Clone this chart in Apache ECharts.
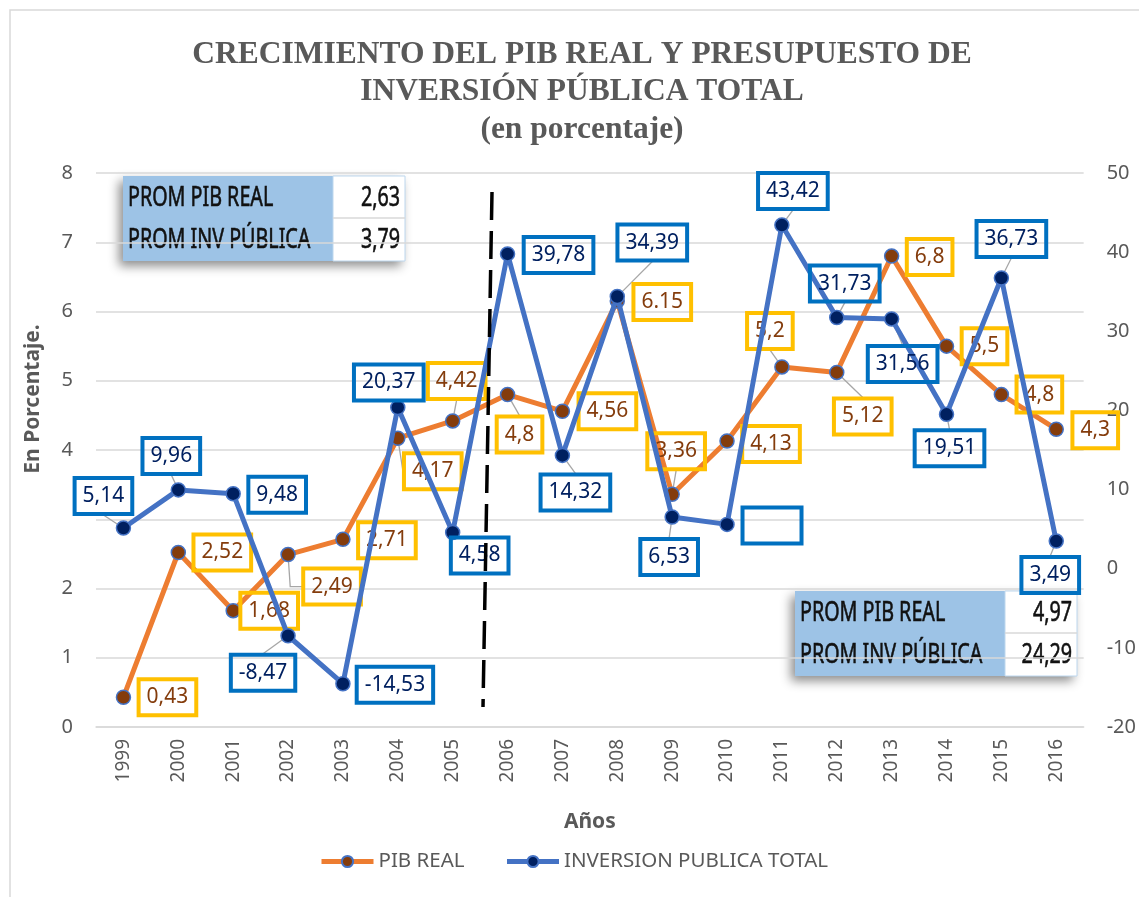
<!DOCTYPE html>
<html><head><meta charset="utf-8">
<script src="https://cdn.jsdelivr.net/npm/echarts@6/dist/echarts.min.js"></script>
<style>html,body{margin:0;padding:0;background:#fff}#c{width:1139px;height:897px}</style>
</head><body><div id="c"></div>
<script>
// ---------- data ----------
const years = ['1999','2000','2001','2002','2003','2004','2005','2006','2007','2008','2009','2010','2011','2012','2013','2014','2015','2016'];
const pibReal = [0.43, 2.52, 1.68, 2.49, 2.71, 4.17, 4.42, 4.8, 4.56, 6.15, 3.36, 4.13, 5.2, 5.12, 6.8, 5.5, 4.8, 4.3];
const invPublica = [5.14, 9.96, 9.48, -8.47, -14.53, 20.37, 4.58, 39.78, 14.32, 34.39, 6.53, 5.6, 43.42, 31.73, 31.56, 19.51, 36.73, 3.49];
const leftTicks = [0, 1, 2, 3, 4, 5, 6, 7, 8];
const rightTicks = [-20, -10, 0, 10, 20, 30, 40, 50];
const hiddenLeftTick = 3;
const table1Rows = [['PROM PIB REAL', '2,63'], ['PROM INV PÚBLICA', '3,79']];
const table2Rows = [['PROM PIB REAL', '4,97'], ['PROM INV PÚBLICA', '24,29']];
const seriesNames = ['PIB REAL', 'INVERSION PUBLICA TOTAL'];
const titleLines = ['CRECIMIENTO DEL PIB REAL Y PRESUPUESTO DE', 'INVERSIÓN PÚBLICA TOTAL', '(en porcentaje)'];

// ---------- label placement (styling) ----------
const pibLabelOffset = [[44,0],[44,0],[36,0],[44,32],[44,1],[35,33],[4,-40],[12,40],[45,0],[45,1],[4,-43],[44,3],[-12,-36],[26,44],[38,1],[38,0],[38,0],[39,1]];
const pibLeader = [3,5,6,7,10,12,13];
const invLabelOffset = [[-20,-32],[-7,-34],[44,1],[-25,37],[52,1],[-9,-25],[27,23],[51,1],[13,37],[35,-54],[-3,40],[45,1],[11,-34],[8,-34],[11,45],[3,34],[10,-39],[-6,34]];
const invLeader = [0,1,3,8,9,10,12,13,14,15,16,17];
const elbowYear = '2002';

const SANS = 'Noto Sans';
const GRAY = '#595959';
const LABEL_FS = 21, LABEL_LH = 26, PAD_V = 5, PAD_H = 8, BORDER = 2, SYM = 14;

function pibText(i){ return years[i] === '2008' ? String(pibReal[i]) : String(pibReal[i]).replace('.', ','); }
function invText(i){ return years[i] === '2010' ? '\u00a0' : String(invPublica[i]).replace('.', ','); }

const baseLabel = {
  show: true, position: 'inside', fontFamily: SANS, fontSize: LABEL_FS, lineHeight: LABEL_LH,
  padding: [PAD_V, PAD_H, PAD_V, PAD_H], borderWidth: BORDER, backgroundColor: 'transparent'
};

const pibData = pibReal.map((v, i) => ({
  value: v,
  label: Object.assign({}, baseLabel, { offset: pibLabelOffset[i], color: '#843c0c', borderColor: '#ffc000', formatter: pibText(i) })
}));
const invData = invPublica.map((v, i) => ({
  value: v,
  label: Object.assign({}, baseLabel, { offset: invLabelOffset[i], color: '#002060', borderColor: '#0070c0', formatter: invText(i) }, years[i] === '2010' ? { width: 43 } : {})
}));

// leader lines from each marker to the nearest side of its label box
const measureCtx = document.createElement('canvas').getContext('2d');
function textWidth(t) { measureCtx.font = LABEL_FS + 'px "' + SANS + '"'; return measureCtx.measureText(t).width; }
function leaderSeries(name, values, offsets, leaders, textFn, yIdx) {
  return {
    type: 'custom', name: name, yAxisIndex: yIdx, coordinateSystem: 'cartesian2d', silent: true, z: 1,
    data: values.map((v, i) => [i, v]),
    renderItem: function (params, api) {
      const i = params.dataIndex;
      if (!leaders.includes(i)) return null;
      const p = api.coord([api.value(0), api.value(1)]);
      const o = offsets[i];
      const cx = p[0] + o[0], cy = p[1] + o[1];
      const hw = (textWidth(textFn(i)) + 2 * PAD_H + BORDER) / 2;
      const hh = (LABEL_LH + 2 * PAD_V + BORDER) / 2;
      const cands = [[cx, cy - hh], [cx, cy + hh], [cx - hw, cy], [cx + hw, cy]];
      let best = cands[0], bd = Infinity;
      cands.forEach(c => { const d = Math.hypot(c[0] - p[0], c[1] - p[1]); if (d < bd) { bd = d; best = c; } });
      const pts = [];
      let target = best;
      if (years[i] === elbowYear && best === cands[2]) { target = [best[0] - 12, best[1]]; }
      const dx = target[0] - p[0], dy = target[1] - p[1], L = Math.hypot(dx, dy) || 1;
      pts.push([p[0] + dx / L * SYM / 2, p[1] + dy / L * SYM / 2]);
      if (target !== best) pts.push(target);
      pts.push(best);
      return { type: 'polyline', shape: { points: pts }, style: { stroke: '#a6a6a6', lineWidth: 1.3, fill: null } };
    }
  };
}

function table(x, y, rows) {
  const w1 = 210, w2 = 72, h = 85, rh = 42;
  const children = [
    { type: 'rect', shape: { x: x, y: y, width: w1 + w2, height: h }, style: { fill: '#fff', shadowBlur: 10, shadowOffsetX: -4, shadowOffsetY: 5, shadowColor: 'rgba(0,0,0,0.45)' } },
    { type: 'rect', shape: { x: x, y: y, width: w1, height: h }, style: { fill: '#9dc3e6' } },
    { type: 'rect', shape: { x: x + w1, y: y, width: w2, height: h }, style: { fill: '#fff', stroke: '#bdd7ee', lineWidth: 1 } },
    { type: 'line', shape: { x1: x + w1, y1: y + rh, x2: x + w1 + w2, y2: y + rh }, style: { stroke: '#d9d9d9', lineWidth: 1.5 } }
  ];
  const ts = { fontFamily: SANS, fontSize: 27, fontWeight: 'normal', fill: '#111', stroke: '#111', lineWidth: 0.6, verticalAlign: 'middle' };
  rows.forEach((r, k) => {
    const cy = y + rh / 2 + k * rh + 1;
    children.push({ type: 'text', x: x + 5, y: cy, scaleX: 0.73, style: Object.assign({ text: r[0], align: 'left' }, ts) });
    children.push({ type: 'text', x: x + w1 + w2 - 5, y: cy, scaleX: 0.73, style: Object.assign({ text: r[1], align: 'right' }, ts) });
  });
  return { type: 'group', z: 50, children: children };
}

const chart = echarts.init(document.getElementById('c'), null, { renderer: 'canvas' });
chart.setOption({
  animation: false,
  backgroundColor: '#fff',
  title: {
    text: titleLines.join('\n'), left: 577, top: 31, textAlign: 'center',
    textStyle: { fontFamily: 'Liberation Serif', fontWeight: 'bold', fontSize: 31.5, lineHeight: 37.5, color: GRAY }
  },
  legend: {
    data: seriesNames, left: 314, top: 846, itemWidth: 52, itemHeight: 14, itemGap: 40,
    lineStyle: { width: 5 },
    textStyle: { fontFamily: SANS, fontSize: 20.5, color: GRAY }
  },
  grid: { left: 96, right: 54, top: 173, bottom: 170, containLabel: false },
  xAxis: {
    type: 'category', data: years, boundaryGap: true,
    axisLine: { show: true, lineStyle: { color: '#d9d9d9', width: 1.5 } },
    axisTick: { show: false },
    axisLabel: { rotate: 90, margin: 12, fontFamily: SANS, fontSize: 19, color: GRAY },
    name: 'Años', nameLocation: 'middle', nameGap: 85,
    nameTextStyle: { fontFamily: SANS, fontSize: 21, fontWeight: 'bold', color: GRAY }
  },
  yAxis: [{
    type: 'value', min: leftTicks[0], max: leftTicks[leftTicks.length - 1], interval: leftTicks[1] - leftTicks[0],
    axisLine: { show: false }, axisTick: { show: false },
    splitLine: { lineStyle: { color: '#d9d9d9', width: 1.5 } },
    axisLabel: { margin: 23, fontFamily: SANS, fontSize: 20, color: GRAY, formatter: v => (v === hiddenLeftTick ? '' : String(v)) }
  }, {
    type: 'value', min: rightTicks[0], max: rightTicks[rightTicks.length - 1], interval: rightTicks[1] - rightTicks[0],
    axisLine: { show: false }, axisTick: { show: false }, splitLine: { show: false },
    axisLabel: { margin: 23, fontFamily: SANS, fontSize: 20, color: GRAY }
  }],
  series: [
    leaderSeries('leader-pib', pibReal, pibLabelOffset, pibLeader, pibText, 0),
    leaderSeries('leader-inv', invPublica, invLabelOffset, invLeader, invText, 1),
    {
      name: seriesNames[0], type: 'line', yAxisIndex: 0, data: pibData,
      symbol: 'circle', symbolSize: SYM, showAllSymbol: true,
      lineStyle: { color: '#ed7d31', width: 5 },
      itemStyle: { color: '#843c0c', borderColor: '#4472c4', borderWidth: 1.5 },
      z: 2
    }, {
      name: seriesNames[1], type: 'line', yAxisIndex: 1, data: invData,
      symbol: 'circle', symbolSize: SYM, showAllSymbol: true,
      lineStyle: { color: '#4472c4', width: 5 },
      itemStyle: { color: '#002060', borderColor: '#4472c4', borderWidth: 1.5 },
      z: 3
    }
  ],
  graphic: [
    { type: 'rect', z: 0, silent: true, shape: { x: 10, y: 10, width: 1300, height: 1000 }, style: { fill: 'none', stroke: '#d9d9d9', lineWidth: 1.5 } },
    { type: 'text', z: 10, x: 33, y: 399, rotation: Math.PI / 2, style: { text: 'En Porcentaje.', fontFamily: SANS, fontSize: 21, fontWeight: 'bold', fill: GRAY, align: 'center', verticalAlign: 'middle' } },
    { type: 'line', z: 40, shape: { x1: 492, y1: 192, x2: 483, y2: 707 }, style: { stroke: '#000', lineWidth: 3.5, lineDash: [28, 11] } },
    table(123, 176, table1Rows),
    table(795, 591, table2Rows)
  ]
});
</script></body></html>
